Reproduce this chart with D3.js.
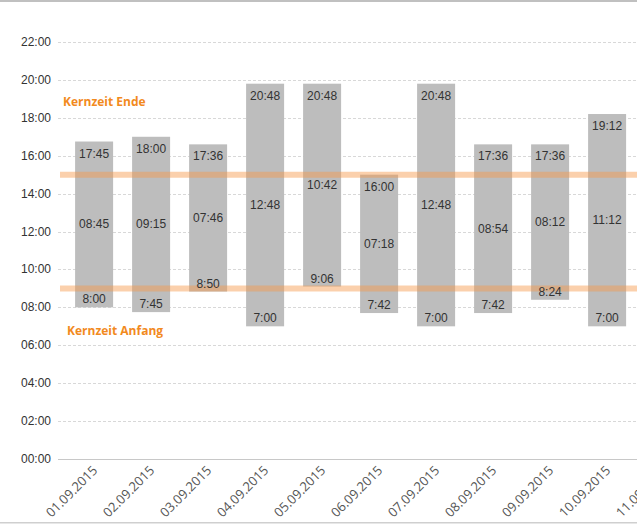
<!DOCTYPE html>
<html>
<head>
<meta charset="utf-8">
<script src="https://cdn.jsdelivr.net/npm/d3@7"></script>
<style>
  body { margin: 0; background: #fff; overflow: hidden; }
  svg { display: block; }
</style>
</head>
<body>
<div id="chart"></div>
<script>
// chart values
var days = ["01.09.2015", "02.09.2015", "03.09.2015", "04.09.2015", "05.09.2015",
            "06.09.2015", "07.09.2015", "08.09.2015", "09.09.2015", "10.09.2015", "11.09.2015"];
var startLabels = ["8:00", "7:45", "8:50", "7:00", "9:06", "7:42", "7:00", "7:42", "8:24", "7:00"];
var durationLabels = ["08:45", "09:15", "07:46", "12:48", "10:42", "07:18", "12:48", "08:54", "08:12", "11:12"];
var endLabels = ["17:45", "18:00", "17:36", "20:48", "20:48", "16:00", "20:48", "17:36", "17:36", "19:12"];
var yTicks = [0, 2, 4, 6, 8, 10, 12, 14, 16, 18, 20, 22];
var kernzeitAnfang = 9, kernzeitEnde = 15;

function hours(s) { var p = s.split(":"); return +p[0] + p[1] / 60; }

var data = startLabels.map(function(s, i) {
  return { day: days[i], start: hours(s), dur: hours(durationLabels[i]),
           startLabel: s, durLabel: durationLabels[i], endLabel: endLabels[i] };
});

var W = 637, H = 527;
var plotLeft = 58, plotTop = 42, plotBottom = 459;

var svg = d3.select("#chart").append("svg")
  .attr("width", W).attr("height", H);

// frame lines top/bottom
svg.append("rect").attr("x", 0).attr("y", 0).attr("width", W).attr("height", 2).attr("fill", "#c0c0c0");
svg.append("rect").attr("x", 0).attr("y", 522).attr("width", W).attr("height", 1.5).attr("fill", "#cfcfcf");

var x = d3.scaleBand()
  .domain(days)
  .range([plotLeft, plotLeft + 57 * (days.length - 1 / 3 + 0.6)])
  .paddingInner(1 / 3)
  .paddingOuter(0.3);

var y = d3.scaleLinear().domain([0, 22]).range([plotBottom, plotTop]);

// grid
svg.append("g").selectAll("line")
  .data(yTicks.filter(function(d) { return d > 0; }))
  .enter().append("line")
  .attr("x1", plotLeft).attr("x2", W)
  .attr("y1", function(d) { return Math.round(y(d)) + 0.5; })
  .attr("y2", function(d) { return Math.round(y(d)) + 0.5; })
  .attr("stroke", "#d8d8d8")
  .attr("stroke-dasharray", "3,2");

// y axis labels
svg.append("g").selectAll("text")
  .data(yTicks).enter().append("text")
  .attr("x", 51).attr("y", function(d) { return y(d) + 4; })
  .attr("text-anchor", "end")
  .style("font", "12px 'Liberation Sans', Arial, sans-serif")
  .style("fill", "#333")
  .text(function(d) { return (d < 10 ? "0" : "") + d + ":00"; });

// x axis line
svg.append("line")
  .attr("x1", plotLeft).attr("x2", W)
  .attr("y1", Math.round(y(0)) + 0.5).attr("y2", Math.round(y(0)) + 0.5)
  .attr("stroke", "#c8c8c8");

// bars
svg.append("g").selectAll("rect")
  .data(data).enter().append("rect")
  .attr("x", function(d) { return x(d.day); })
  .attr("width", x.bandwidth())
  .attr("y", function(d) { return y(d.start + d.dur); })
  .attr("height", function(d) { return y(d.start) - y(d.start + d.dur); })
  .attr("fill", "#bdbdbd");

// core time lines
svg.append("g").selectAll("line")
  .data([kernzeitEnde, kernzeitAnfang]).enter().append("line")
  .attr("x1", 60).attr("x2", W)
  .attr("y1", function(d) { return y(d); })
  .attr("y2", function(d) { return y(d); })
  .attr("stroke", "rgba(247,150,70,0.45)")
  .attr("stroke-width", 6);

// bar labels
var lab = svg.append("g")
  .style("font", "12px 'Liberation Sans', Arial, sans-serif")
  .style("fill", "#333")
  .attr("text-anchor", "middle");

lab.selectAll(".end").data(data).enter().append("text")
  .attr("x", function(d) { return x(d.day) + x.bandwidth() / 2; })
  .attr("y", function(d) { return y(d.start + d.dur) + 16; })
  .text(function(d) { return d.endLabel; });

lab.selectAll(".dur").data(data).enter().append("text")
  .attr("x", function(d) { return x(d.day) + x.bandwidth() / 2; })
  .attr("y", function(d) { return (y(d.start + d.dur) + y(d.start)) / 2 + 4; })
  .text(function(d) { return d.durLabel; });

lab.selectAll(".start").data(data).enter().append("text")
  .attr("x", function(d) { return x(d.day) + x.bandwidth() / 2; })
  .attr("y", function(d) { return y(d.start) - 4; })
  .text(function(d) { return d.startLabel; });

// core time captions
svg.append("text").attr("x", 63).attr("y", 106)
  .style("font", "bold 12px 'Open Sans', sans-serif").style("fill", "#f28a1e")
  .text("Kernzeit Ende");
svg.append("text").attr("x", 67).attr("y", 335)
  .style("font", "bold 12px 'Open Sans', sans-serif").style("fill", "#f28a1e")
  .text("Kernzeit Anfang");

// x axis labels
svg.append("g").selectAll("text")
  .data(days).enter().append("text")
  .attr("transform", function(d) {
    return "translate(" + (x(d) + x.bandwidth() / 2 + 1) + "," + (plotBottom + 9) + ") rotate(-45)";
  })
  .attr("text-anchor", "end")
  .attr("dy", "0.35em")
  .style("font", "13px 'Open Sans', sans-serif")
  .style("fill", "#555")
  .text(function(d) { return d; });
</script>
</body>
</html>
